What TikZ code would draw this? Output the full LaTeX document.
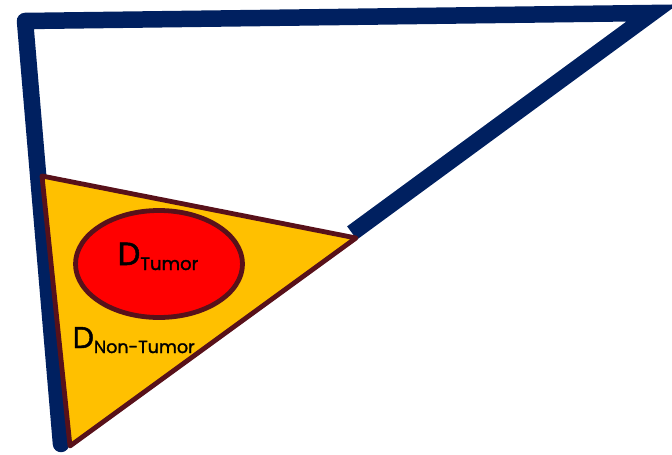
\documentclass[tikz,border=0pt]{standalone}
\usepackage{fontspec}
\setmainfont{Poppins}
\newfontfamily\lblfont{Poppins}[FakeBold=1.6]
\usetikzlibrary{shapes.geometric,calc}
\definecolor{navy}{HTML}{002060}
\definecolor{gold}{HTML}{FFC000}
\definecolor{maroon}{HTML}{58111A}
\definecolor{tumorred}{HTML}{FF0000}
\tikzset{
  frame/.style={draw=navy, line width=16.5pt},
  region/.style={draw=maroon, line width=4.8pt, line join=round},
  lbl/.style={inner sep=0pt, anchor=base west, text=black, font=\lblfont}
}
\begin{document}
\begin{tikzpicture}[x=1pt,y=-1pt]
\useasboundingbox (0,0) rectangle (672,455);
\begin{scope}
\clip (0,0) rectangle (672,455);
% navy outline
\coordinate (A) at (25,21);
\coordinate (B) at (652,13);
\coordinate (C) at (61,444);
\coordinate (D) at (352,233);
\coordinate (M) at ($(A)!0.5!(B)$);
\draw[frame, line join=round, line cap=round] (C) -- (A) -- (M);
\draw[frame, line join=miter, line cap=butt] (M) -- (B) -- (D);
\end{scope}
% orange region
\filldraw[region, fill=gold] (42,176) -- (356,238) -- (70,446) -- cycle;
% tumour ellipse
\node[ellipse, draw=maroon, line width=4.8pt, fill=tumorred, inner sep=0pt,
      minimum width=167pt, minimum height=107pt] (tumor) at (159,264) {};
\node[lbl] (dt) at (117.5,265) {\fontsize{32}{32}\selectfont D\raisebox{-5pt}{\fontsize{18}{18}\selectfont Tumor}};
\node[lbl] (dn) at (72.5,348) {\fontsize{30}{30}\selectfont D\raisebox{-5pt}{\fontsize{17.5}{17.5}\selectfont Non-Tumor}};
\end{tikzpicture}
\end{document}
